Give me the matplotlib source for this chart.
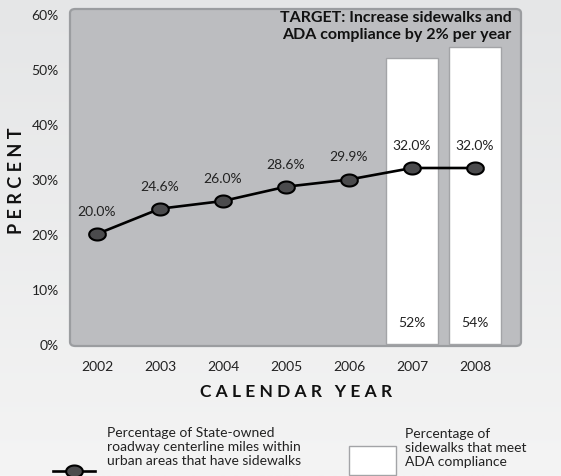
import matplotlib
matplotlib.use('Agg')
import matplotlib.pyplot as plt
import numpy as np
from matplotlib.patches import FancyBboxPatch, Rectangle
from matplotlib.lines import Line2D
from matplotlib.path import Path

plt.rcParams['font.family'] = ['Lato', 'DejaVu Sans']

# data
years = [2002, 2003, 2004, 2005, 2006, 2007, 2008]
sidewalk_pct = [20.0, 24.6, 26.0, 28.6, 29.9, 32.0, 32.0]
ada_years = [2007, 2008]
ada_pct = [52, 54]
y_ticks = [0, 10, 20, 30, 40, 50, 60]

W, H = 561, 477
fig = plt.figure(figsize=(W / 100, H / 100), dpi=100)

# soft gray gradient behind everything
bg = fig.add_axes([0, 0, 1, 1], zorder=-10)
grad = np.linspace(0, 1, 256).reshape(-1, 1)
bg.imshow(grad, aspect='auto', cmap=matplotlib.colors.LinearSegmentedColormap.from_list(
    'g', ['#e5e6e7', '#f4f4f4']), extent=[0, 1, 0, 1])
bg.set_axis_off()

def px(x0, y0, x1, y1):
    return [x0 / W, 1 - y1 / H, (x1 - x0) / W, (y1 - y0) / H]

ax = fig.add_axes(px(70, 10, 521, 347))
ax.set_facecolor('none')
for s in ax.spines.values():
    s.set_visible(False)

# rounded plot panel
panel = FancyBboxPatch((0, 0), 1, 1, boxstyle='round,pad=0,rounding_size=0.012',
                       transform=ax.transAxes, facecolor='#bcbdc0',
                       edgecolor='#9b9da0', linewidth=1.6, zorder=0, clip_on=False)
ax.add_patch(panel)

px_per_pct = 5.5
ax.set_ylim(-2 / px_per_pct, 60 + 5 / px_per_pct)
ax.set_xlim(2002 - 27 / 63, 2008 + 46 / 63)

# ADA compliance bars
ax.bar(ada_years, ada_pct, width=0.84, color='white', edgecolor='#a3a4a7',
       linewidth=1.0, zorder=1)
for x, v in zip(ada_years, ada_pct):
    ax.text(x, 4, f'{v}%', ha='center', va='center', fontsize=10, color='#222222', zorder=5)

# ellipse marker
t = np.linspace(0, 2 * np.pi, 60)
ell = Path(np.column_stack([np.cos(t), 0.72 * np.sin(t)]))

ax.plot(years, sidewalk_pct, color='black', linewidth=1.9, marker=ell, markersize=12,
        markerfacecolor='#4b4b4d', markeredgecolor='black', markeredgewidth=1.5, zorder=3)
for x, v in zip(years, sidewalk_pct):
    ax.text(x, v + 4.2, f'{v:.1f}%', ha='center', va='center', fontsize=10,
            color='#222222', zorder=5)

ax.text(2008.58, 57.9, 'TARGET: Increase sidewalks and\nADA compliance by 2% per year',
        ha='right', va='center', fontsize=11.5, fontweight='bold', color='#111111',
        linespacing=1.2, zorder=6)

ax.set_yticks(y_ticks)
ax.set_yticklabels([f'{v}%' for v in y_ticks])
ax.set_xticks(years)
ax.set_xticklabels([str(y) for y in years])
ax.tick_params(length=0, labelsize=10, labelcolor='#222222')
ax.tick_params(axis='y', pad=8)
ax.tick_params(axis='x', pad=10)

fig.text(17 / W, 1 - 181 / H, 'P E R C E N T', rotation=90, ha='center', va='center',
         fontsize=13, fontweight='bold', color='#111111')
fig.text(296 / W, 1 - 392 / H, 'C A L E N D A R   Y E A R', ha='center', va='center',
         fontsize=12.5, fontweight='bold', color='#111111')

# legend
fig.add_artist(Line2D([53 / W, 95 / W], [1 - 472 / H, 1 - 472 / H], color='black',
                      linewidth=1.9, transform=fig.transFigure))
fig.add_artist(Line2D([74 / W], [1 - 472 / H], marker=ell, markersize=12,
                      markerfacecolor='#4b4b4d', markeredgecolor='black',
                      markeredgewidth=1.5, transform=fig.transFigure))
fig.text(107 / W, 1 - 447 / H, 'Percentage of State-owned\nroadway centerline miles within\nurban areas that have sidewalks',
         ha='left', va='center', fontsize=10, color='#222222', linespacing=1.2)
fig.add_artist(Rectangle((349 / W, 1 - 476 / H), 47 / W, 29 / H, facecolor='white',
                         edgecolor='#a3a4a7', linewidth=1.0, transform=fig.transFigure))
fig.text(405 / W, 1 - 448 / H, 'Percentage of\nsidewalks that meet\nADA compliance',
         ha='left', va='center', fontsize=10, color='#222222', linespacing=1.2)

fig.savefig('out.png', dpi=100)
